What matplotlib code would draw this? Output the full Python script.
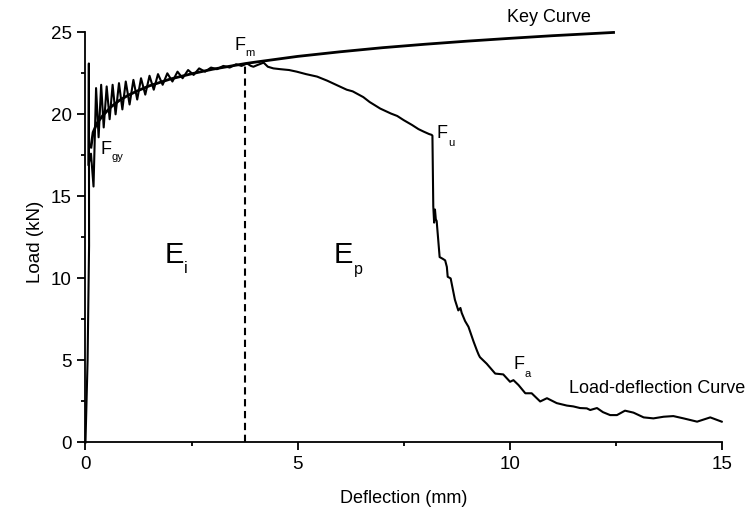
import matplotlib
matplotlib.use("Agg")
import matplotlib.pyplot as plt
from matplotlib.ticker import MultipleLocator

plt.rcParams['font.family'] = ['Liberation Sans', 'DejaVu Sans']

# Load-deflection curve (deflection mm, load kN)
ld_x = [0.00, 0.05, 0.085, 0.08, 0.07, 0.13, 0.19, 0.25, 0.31, 0.37, 0.43, 0.50, 0.57,
        0.64, 0.71, 0.79, 0.87, 0.95, 1.04, 1.13, 1.22, 1.31, 1.41, 1.51, 1.61, 1.71,
        1.82, 1.93, 2.05, 2.17, 2.29, 2.42, 2.55, 2.68, 2.82, 2.96, 3.10, 3.25, 3.40,
        3.55, 3.68,
        3.81, 3.90, 3.96, 4.05, 4.20, 4.30, 4.43, 4.60, 4.80, 4.98, 5.20, 5.46, 5.70,
        5.95, 6.16, 6.30, 6.55, 6.70, 6.95, 7.20, 7.35, 7.50, 7.70, 7.85, 7.97, 8.10,
        8.16, 8.18, 8.20, 8.22, 8.24, 8.26, 8.28, 8.35, 8.42, 8.48, 8.52, 8.54, 8.61,
        8.71, 8.79, 8.84, 8.87, 8.95, 9.03, 9.15, 9.23, 9.27, 9.30, 9.46, 9.66, 9.85,
        10.01, 10.09, 10.21, 10.37, 10.52, 10.72, 10.88, 11.11, 11.35, 11.50, 11.66,
        11.82, 11.90, 12.06, 12.20, 12.37, 12.53, 12.72, 12.92, 13.16, 13.39, 13.63,
        13.86, 14.10, 14.42, 14.73, 15.00]
ld_y = [0.0, 5.0, 12.0, 23.1, 16.9, 17.6, 15.6, 21.6, 18.6, 21.8, 19.2, 21.7, 19.7,
        21.8, 20.0, 21.9, 20.3, 22.0, 20.6, 22.1, 20.9, 22.2, 21.2, 22.35, 21.5, 22.45,
        21.8, 22.5, 22.0, 22.6, 22.2, 22.7, 22.4, 22.8, 22.6, 22.85, 22.75, 22.95, 22.85,
        23.05, 22.95,
        23.1, 22.95, 22.9, 23.0, 23.15, 22.9, 22.8, 22.75, 22.7, 22.6, 22.45, 22.3, 22.05,
        21.75, 21.5, 21.4, 21.05, 20.75, 20.35, 20.05, 19.9, 19.65, 19.35, 19.1, 18.95, 18.8,
        18.75, 18.7, 14.4, 13.4, 14.2, 13.6, 13.5, 11.3, 11.2, 11.1, 10.7, 10.1, 10.0,
        8.7, 8.05, 8.2, 7.9, 7.4, 7.05, 6.15, 5.6, 5.35, 5.2, 4.8, 4.2, 4.15,
        3.7, 3.8, 3.5, 3.0, 3.0, 2.5, 2.7, 2.4, 2.25, 2.2, 2.1,
        2.08, 1.98, 2.1, 1.85, 1.67, 1.67, 1.94, 1.82, 1.53, 1.47, 1.57,
        1.61, 1.47, 1.27, 1.53, 1.27]

# Key curve
key_x = [0.13, 0.18, 0.27, 0.40, 0.60, 0.80, 1.00, 1.20, 1.50, 2.00, 2.50, 3.00, 3.76,
         4.00, 5.00, 6.00, 7.00, 8.00, 9.00, 10.00, 11.00, 12.45]
key_y = [18.0, 18.9, 19.45, 19.9, 20.45, 20.85, 21.15, 21.4, 21.73, 22.15, 22.47, 22.75,
         23.09, 23.18, 23.53, 23.81, 24.06, 24.27, 24.46, 24.63, 24.79, 24.99]

fm_x = 3.76
fm_y = 23.05

x_ticks = [0, 5, 10, 15]
y_ticks = [0, 5, 10, 15, 20, 25]

fig = plt.figure(figsize=(7.55, 5.19), dpi=100)
ax = fig.add_axes([0.1132, 0.1474, 0.8427, 0.7904])

ax.plot(ld_x, ld_y, color='black', lw=1.5, clip_on=False)
ax.plot(key_x, key_y, color='black', lw=2.0, clip_on=False)
ax.plot([fm_x, fm_x], [0, fm_y], color='black', lw=1.5, dashes=(3.5, 2.2))

ax.set_xlim(0, 15)
ax.set_ylim(0, 25)
ax.set_xticks(x_ticks)
ax.set_yticks(y_ticks)
ax.xaxis.set_minor_locator(MultipleLocator(2.5))
ax.yaxis.set_minor_locator(MultipleLocator(2.5))
for s in ['top', 'right']:
    ax.spines[s].set_visible(False)
for s in ['left', 'bottom']:
    ax.spines[s].set_linewidth(1.3)
ax.tick_params(which='major', direction='out', length=6, width=1.3, labelsize=13.5, pad=4)
ax.tick_params(which='minor', direction='out', length=3, width=1.3)

ax.set_xlabel('Deflection (mm)', fontsize=13)
ax.set_ylabel('Load (kN)', fontsize=13.5)
ax.yaxis.set_label_coords(-0.065, 0.49)
ax.xaxis.set_label_coords(0.5, -0.115)

def label(x, y, main, sub, size, subsize, dx, dy):
    ax.text(x, y, main, fontsize=size, ha='left', va='baseline', clip_on=False)
    ax.annotate(sub, xy=(x, y), xytext=(dx, dy), textcoords='offset points',
                fontsize=subsize, ha='left', va='baseline', annotation_clip=False)

label(0.36, 17.61, 'F', 'gy', 13, 8, 8.0, -4.3)
label(3.51, 23.9, 'F', 'm', 13, 8, 8.0, -4.3)
label(8.28, 18.53, 'F', 'u', 13, 8, 8.0, -5.3)
label(10.09, 4.46, 'F', 'a', 13, 8, 8.0, -5.3)
label(1.86, 10.95, 'E', 'i', 21, 11.5, 14.0, -7.6)
label(5.86, 10.91, 'E', 'p', 21, 11.5, 14.0, -7.6)

ax.text(9.94, 25.63, 'Key Curve', fontsize=13, ha='left', va='baseline', clip_on=False)
ax.text(11.39, 3.0, 'Load-deflection Curve', fontsize=13, ha='left', va='baseline', clip_on=False)

fig.savefig('out.png', dpi=100)
